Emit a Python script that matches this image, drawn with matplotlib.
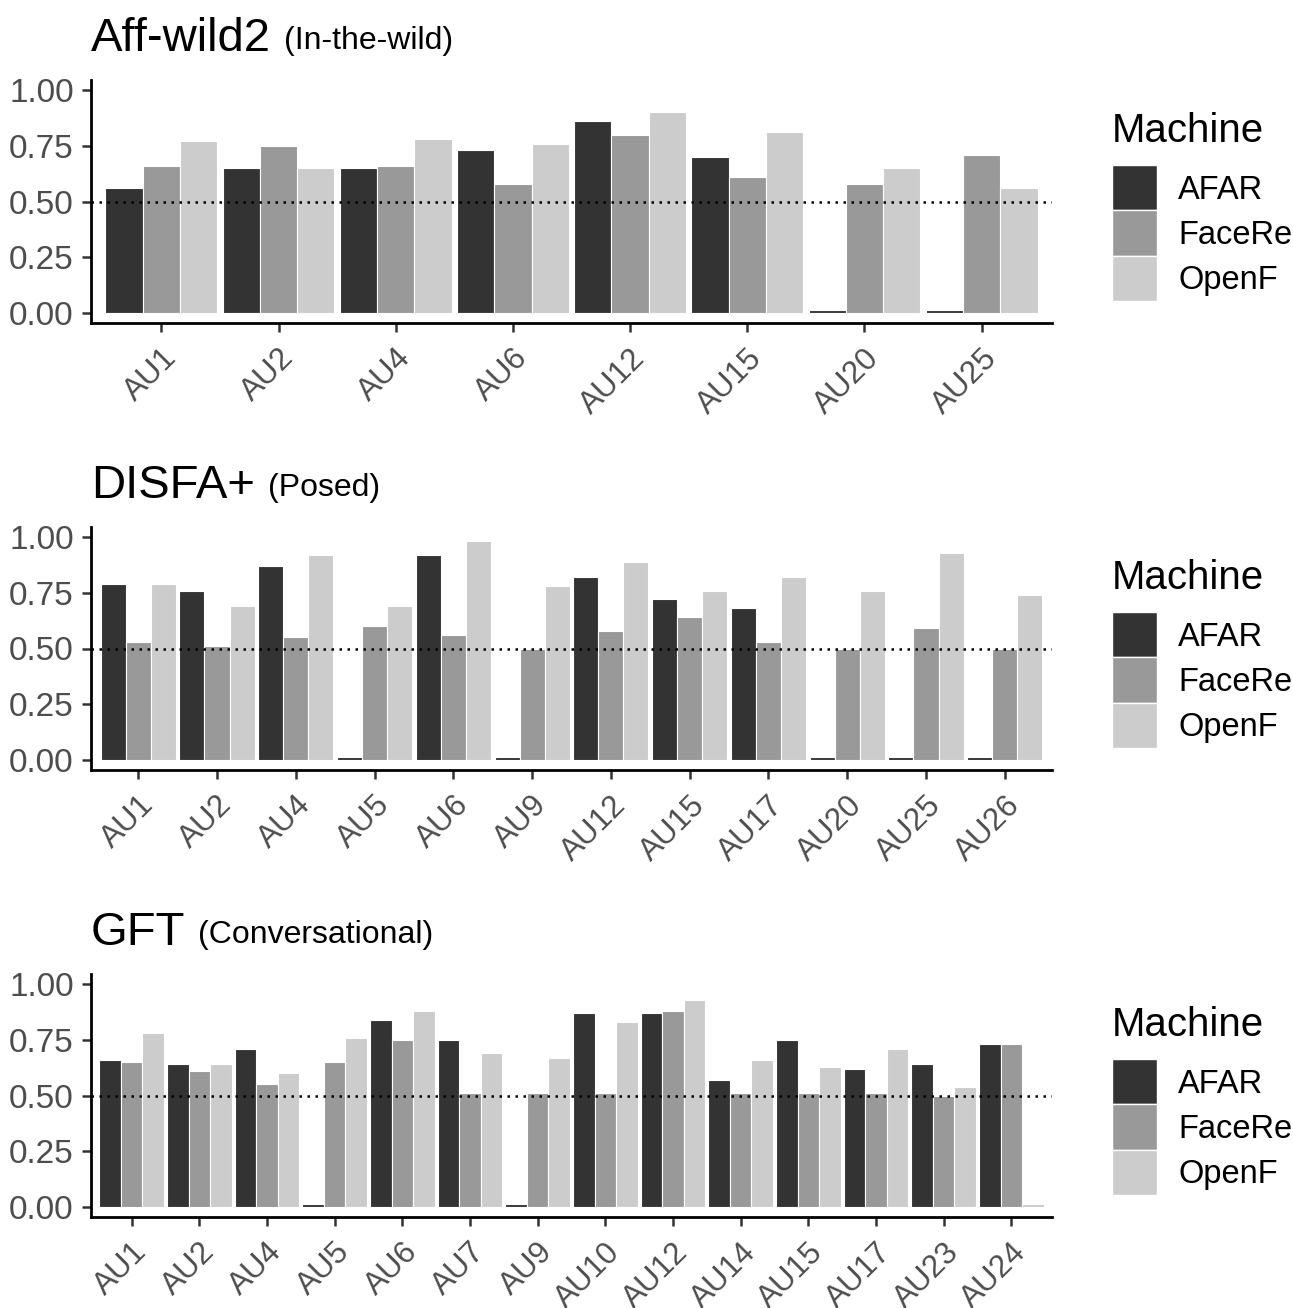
import numpy as np
import matplotlib
matplotlib.use("Agg")
import matplotlib.pyplot as plt
from matplotlib.patches import Patch

plt.rcParams['font.family'] = ['Liberation Sans', 'DejaVu Sans']

machines = ["AFAR", "FaceRe", "OpenF"]
colors = ["#333333", "#999999", "#CCCCCC"]

# Aff-wild2 (In-the-wild)
aff_aus = ["AU1", "AU2", "AU4", "AU6", "AU12", "AU15", "AU20", "AU25"]
aff_afar = [0.56, 0.65, 0.65, 0.73, 0.86, 0.70, 0.012, 0.012]
aff_facere = [0.66, 0.75, 0.66, 0.58, 0.80, 0.61, 0.58, 0.71]
aff_openf = [0.77, 0.65, 0.78, 0.76, 0.90, 0.81, 0.65, 0.56]

# DISFA+ (Posed)
disfa_aus = ["AU1", "AU2", "AU4", "AU5", "AU6", "AU9", "AU12", "AU15", "AU17", "AU20", "AU25", "AU26"]
disfa_afar = [0.79, 0.76, 0.87, 0.012, 0.92, 0.012, 0.82, 0.72, 0.68, 0.012, 0.012, 0.012]
disfa_facere = [0.53, 0.51, 0.55, 0.60, 0.56, 0.50, 0.58, 0.64, 0.53, 0.50, 0.59, 0.50]
disfa_openf = [0.79, 0.69, 0.92, 0.69, 0.98, 0.78, 0.89, 0.76, 0.82, 0.76, 0.93, 0.74]

# GFT (Conversational)
gft_aus = ["AU1", "AU2", "AU4", "AU5", "AU6", "AU7", "AU9", "AU10", "AU12", "AU14", "AU15", "AU17", "AU23", "AU24"]
gft_afar = [0.66, 0.64, 0.71, 0.012, 0.84, 0.75, 0.012, 0.87, 0.87, 0.57, 0.75, 0.62, 0.64, 0.73]
gft_facere = [0.65, 0.61, 0.55, 0.65, 0.75, 0.51, 0.51, 0.51, 0.88, 0.51, 0.51, 0.51, 0.50, 0.73]
gft_openf = [0.78, 0.64, 0.60, 0.76, 0.88, 0.69, 0.67, 0.83, 0.93, 0.66, 0.63, 0.71, 0.54, 0.012]

panels = [
    ("Aff-wild2", "(In-the-wild)", aff_aus, [aff_afar, aff_facere, aff_openf]),
    ("DISFA+", "(Posed)", disfa_aus, [disfa_afar, disfa_facere, disfa_openf]),
    ("GFT", "(Conversational)", gft_aus, [gft_afar, gft_facere, gft_openf]),
]

W, H = 1293, 1308
fig = plt.figure(figsize=(W / 100, H / 100), dpi=100)

ax_left = 91 / W
ax_width = (1052 - 91) / W
ax_height = (323 - 80) / H
bottoms = [1 - 323 / H, 1 - 770 / H, 1 - 1217 / H]

for (name, sub, aus, vals), bot in zip(panels, bottoms):
    ax = fig.add_axes([ax_left, bot, ax_width, ax_height])
    x = np.arange(len(aus))
    bw = 0.955 / 3
    for i in range(3):
        ax.bar(x + (i - 1) * bw, vals[i], width=bw, color=colors[i],
               edgecolor="white", linewidth=0.8, label=machines[i], zorder=2)
    ax.axhline(0.5, color="black", linestyle=(0, (1, 2.2)), linewidth=1.8, zorder=3)

    ax.set_xlim(-0.6, len(aus) - 1 + 0.6)
    ax.set_ylim(-0.045, 1.045)
    ax.set_yticks([0, 0.25, 0.5, 0.75, 1.0])
    ax.set_yticklabels(["%.2f" % v for v in [0, 0.25, 0.5, 0.75, 1.0]])
    ax.set_xticks(x)
    ax.set_xticklabels(aus, rotation=45, ha="right", va="top", rotation_mode="anchor")

    for s in ["top", "right"]:
        ax.spines[s].set_visible(False)
    for s in ["left", "bottom"]:
        ax.spines[s].set_linewidth(2.0)
        ax.spines[s].set_color("black")
    ax.tick_params(axis="both", length=6.5, width=1.8, color="#333333",
                   labelcolor="#4D4D4D")
    ax.tick_params(axis="y", pad=6, labelsize=24)
    ax.tick_params(axis="x", pad=8, labelsize=22.5)

    t1 = ax.annotate(name, xy=(0, 1), xycoords="axes fraction",
                     xytext=(0, 21), textcoords="offset points",
                     fontsize=34, color="black", ha="left", va="baseline")
    ax.annotate(sub, xy=(1, 1), xycoords=(t1, "axes fraction"),
                xytext=(9, 22), textcoords="offset points", fontsize=23,
                color="black", ha="left", va="baseline")

    handles = [Patch(facecolor=c, edgecolor="white", linewidth=1.0) for c in colors]
    leg = ax.legend(handles, machines, title="Machine", loc="center left",
                    bbox_to_anchor=(1 + (1112 - 1052) / (1052 - 91), 0.48),
                    frameon=False, fontsize=23.5, title_fontsize=29,
                    handlelength=1.38, handleheight=1.745, labelspacing=0.0,
                    handletextpad=0.65, borderpad=0, borderaxespad=0,
                    alignment="left")
    leg._legend_box.sep = 11

fig.savefig("out.png", dpi=100)
